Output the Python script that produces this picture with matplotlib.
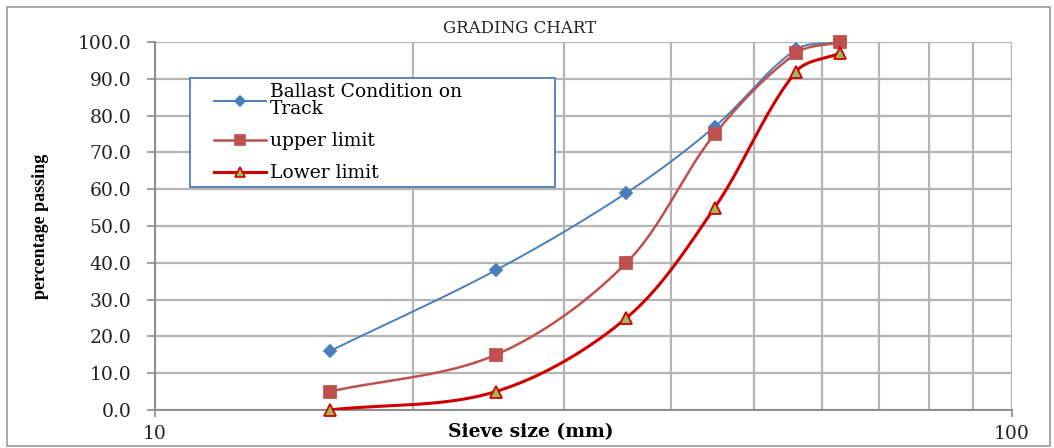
"""Grading chart: sieve size vs percentage passing, Excel-style smoothed curves."""

import numpy as np
import matplotlib
matplotlib.use("Agg")
import matplotlib.pyplot as plt
from matplotlib.lines import Line2D
from matplotlib.legend_handler import HandlerLine2D
from matplotlib.patches import Rectangle
from matplotlib.ticker import FixedLocator, FuncFormatter, NullFormatter

# sieve sizes (mm) and percentage passing
sieve_mm = [16, 25, 35.5, 45, 56, 63]
ballast_track = [16, 38, 59, 77, 98, 100]
upper_limit = [5, 15, 40, 75, 97, 100]
lower_limit = [0, 5, 25, 55, 92, 97]

series_labels = ["Ballast Condition on\nTrack", "upper limit", "Lower limit"]
y_ticks = [0, 10, 20, 30, 40, 50, 60, 70, 80, 90, 100]
x_major = [10, 100]
x_minor = [20, 30, 40, 50, 60, 70, 80, 90]


def smooth(xs, ys, n=40):
    """Bezier smoothing like Excel's 'smoothed line', done in screen-ish units."""
    kx, ky = 857.0, 3.673  # px per decade / px per percent in the figure
    pts = np.column_stack([np.log10(xs) * kx, np.asarray(ys, float) * ky])
    P = np.vstack([pts[0], pts, pts[-1]])
    t = np.linspace(0, 1, n)[:, None]
    out = []
    for i in range(1, len(P) - 2):
        p0, p1, p2, p3 = P[i - 1], P[i], P[i + 1], P[i + 2]
        d01 = np.hypot(*(p1 - p0))
        d12 = np.hypot(*(p2 - p1))
        d23 = np.hypot(*(p3 - p2))
        # tangents scaled by the length of the current segment (avoids overshoot)
        s1 = 2 * d12 / (d01 + d12) if d01 + d12 > 0 else 1
        s2 = 2 * d12 / (d12 + d23) if d12 + d23 > 0 else 1
        c1 = p1 + (p2 - p0) / 6 * s1
        c2 = p2 - (p3 - p1) / 6 * s2
        seg = ((1 - t) ** 3 * p1 + 3 * (1 - t) ** 2 * t * c1
               + 3 * (1 - t) * t ** 2 * c2 + t ** 3 * p2)
        out.append(seg if i == 1 else seg[1:])
    out = np.vstack(out)
    return 10 ** (out[:, 0] / kx), out[:, 1] / ky


class OffsetHandler(HandlerLine2D):
    """Legend line handle pushed to the right, as in the Excel legend."""

    def __init__(self, offset, **kw):
        super().__init__(**kw)
        self.offset = offset

    def create_artists(self, legend, orig_handle, xdescent, ydescent,
                       width, height, fontsize, trans):
        return super().create_artists(legend, orig_handle, xdescent - self.offset,
                                      ydescent, width - self.offset, height,
                                      fontsize, trans)


fig = plt.figure(figsize=(10.54, 4.48), dpi=100)
ax = fig.add_axes([0.147, 0.085, 0.813, 0.821])

# outer chart border
fig.patches.append(Rectangle((0.007, 0.004), 0.989, 0.98, transform=fig.transFigure,
                             fill=False, edgecolor="#9a9a9a", linewidth=1.2))

ax.set_xscale("log")
ax.set_xlim(10, 100)
ax.set_ylim(0, 100)

styles = [
    dict(color="#4a7ebb", lw=1.4, marker="D", ms=6, mfc="#4a7ebb", mec="#4a7ebb"),
    dict(color="#c0504d", lw=1.8, marker="s", ms=8, mfc="#c0504d", mec="#c0504d"),
    dict(color="#d00000", lw=2.2, marker="^", ms=8, mfc="#9bbb59", mec="#d00000"),
]
handles = []
for ys, st, lab in zip([ballast_track, upper_limit, lower_limit], styles, series_labels):
    sx, sy = smooth(sieve_mm, ys)
    ax.plot(sx, sy, color=st["color"], lw=st["lw"], zorder=3)
    ax.plot(sieve_mm, ys, linestyle="none", marker=st["marker"], ms=st["ms"],
            mfc=st["mfc"], mec=st["mec"], mew=1.3, zorder=4, clip_on=False)
    handles.append(Line2D([], [], color=st["color"], lw=st["lw"], marker=st["marker"],
                          ms=st["ms"] * 0.85, mfc=st["mfc"], mec=st["mec"], mew=1.2,
                          label=lab))

# grid and axes
grid_c = "#b4b4b4"
ax.xaxis.set_major_locator(FixedLocator(x_major))
ax.xaxis.set_minor_locator(FixedLocator(x_minor))
ax.xaxis.set_major_formatter(FuncFormatter(lambda v, p: f"{v:g}"))
ax.xaxis.set_minor_formatter(NullFormatter())
ax.set_yticks(y_ticks)
ax.yaxis.set_major_formatter(FuncFormatter(lambda v, p: f"{v:.1f}"))
ax.grid(True, which="both", axis="x", color=grid_c, lw=1.6, zorder=0)
ax.grid(True, which="major", axis="y", color=grid_c, lw=1.6, zorder=0)
ax.set_axisbelow(True)
for side in ["top", "right"]:
    ax.spines[side].set_visible(False)
for side in ["left", "bottom"]:
    ax.spines[side].set_color("#8c8c8c")
    ax.spines[side].set_linewidth(1.4)
ax.tick_params(axis="y", which="major", length=6, width=1.2, color="#8c8c8c", pad=11)
ax.tick_params(axis="x", which="major", length=5, width=1.2, color="#8c8c8c", pad=6)
ax.tick_params(axis="x", which="minor", length=0)
for lbl in ax.get_yticklabels() + ax.get_xticklabels():
    lbl.set_fontfamily("DejaVu Serif")
    lbl.set_fontsize(13.5)
    lbl.set_color("#222222")

ax.set_xlabel("Sieve size (mm)", family="DejaVu Serif", fontsize=13.5,
              fontweight="bold")
ax.xaxis.set_label_coords(0.438, -0.06)
ax.xaxis.label.set_va("center")
ax.set_ylabel("percentage passing", family="Liberation Serif", fontsize=13,
              fontweight="bold")
ax.yaxis.set_label_coords(-0.134, 0.5)
ax.yaxis.label.set_va("center")
fig.text(0.493, 0.937, "GRADING CHART", family="DejaVu Serif", fontsize=12,
         ha="center", va="center", color="#222222")

leg_fs = 13.5
leg = ax.legend(handles=handles, loc="upper left",
                bbox_to_anchor=(0.041, 0.5, 0.426, 0.402), mode="expand",
                borderaxespad=0, prop={"family": "DejaVu Serif", "size": leg_fs},
                handlelength=3.8, handletextpad=0.2, labelspacing=0.75,
                borderpad=0.25, fancybox=False, framealpha=1, numpoints=1,
                handler_map={h: OffsetHandler(1.05 * leg_fs) for h in handles})
leg.get_frame().set_edgecolor("#4a7ebb")
leg.get_frame().set_linewidth(1.3)
for txt in leg.get_texts():
    txt.set_linespacing(0.95)

fig.savefig("out.png", dpi=100)
